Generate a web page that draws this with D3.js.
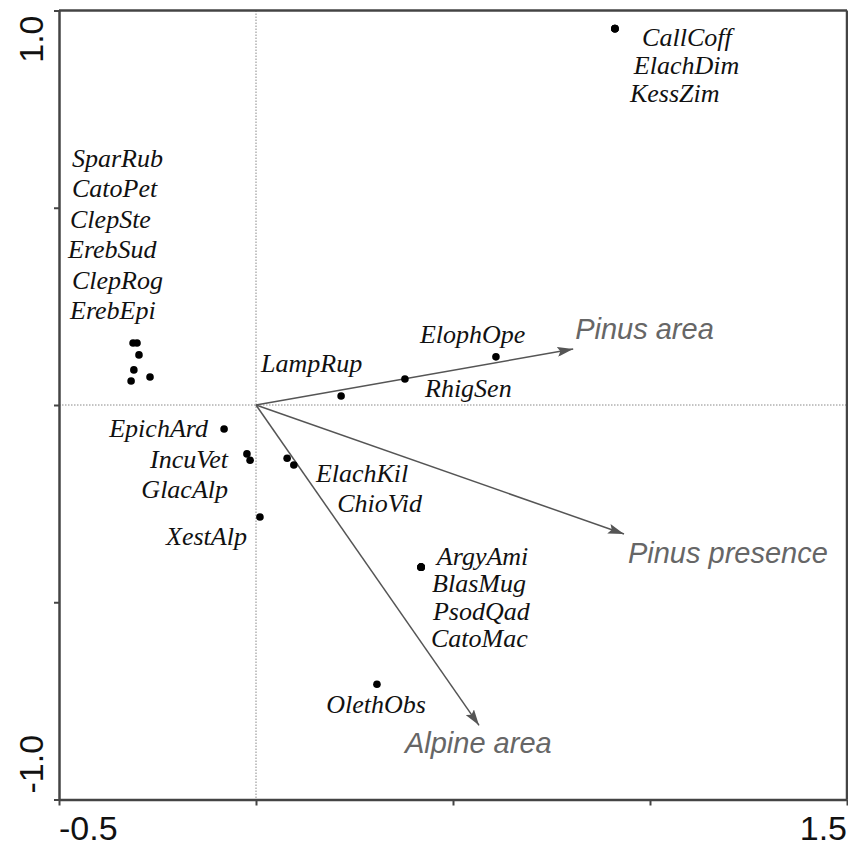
<!DOCTYPE html>
<html>
<head>
<meta charset="utf-8">
<script src="https://cdn.jsdelivr.net/npm/d3@7"></script>
<style>
  body { margin: 0; background: #fff; }
  svg { display: block; }
</style>
</head>
<body>
<script>
// species scores (axis 1, axis 2)
var species = ["CallCoff", "ElachDim", "KessZim",
  "SparRub", "CatoPet", "ClepSte", "ErebSud", "ClepRog", "ErebEpi",
  "EpichArd", "IncuVet", "GlacAlp", "XestAlp",
  "LampRup", "RhigSen", "ElophOpe", "ElachKil", "ChioVid",
  "ArgyAmi", "BlasMug", "PsodQad", "CatoMac", "OlethObs"];
var axis1 = [0.911, 0.911, 0.911,
  -0.312, -0.302, -0.297, -0.310, -0.317, -0.269,
  -0.081, -0.023, -0.015, 0.010,
  0.216, 0.378, 0.609, 0.079, 0.096,
  0.419, 0.419, 0.419, 0.419, 0.307];
var axis2 = [0.954, 0.954, 0.954,
  0.157, 0.157, 0.127, 0.089, 0.061, 0.071,
  -0.061, -0.124, -0.140, -0.284,
  0.023, 0.066, 0.122, -0.135, -0.152,
  -0.411, -0.411, -0.411, -0.411, -0.708];

// environmental vectors
var envNames = ["Pinus area", "Pinus presence", "Alpine area"];
var envX = [0.805, 0.934, 0.566];
var envY = [0.142, -0.327, -0.812];

// axis ticks
var xTicks = [-0.5, 0, 0.5, 1.0, 1.5];
var yTicks = [-1.0, -0.5, 0, 0.5, 1.0];
var xTickLabels = ["-0.5", "1.5"];
var yTickLabels = ["-1.0", "1.0"];

// label placement (data units, text anchor)
var labelLayout = {
  CallCoff: [0.980, 0.911, "start"], ElachDim: [0.959, 0.840, "start"], KessZim: [0.949, 0.769, "start"],
  SparRub: [-0.467, 0.603, "start"], CatoPet: [-0.467, 0.527, "start"], ClepSte: [-0.472, 0.449, "start"],
  ErebSud: [-0.477, 0.373, "start"], ClepRog: [-0.467, 0.294, "start"], ErebEpi: [-0.472, 0.218, "start"],
  EpichArd: [-0.122, -0.081, "end"], IncuVet: [-0.071, -0.160, "end"], GlacAlp: [-0.071, -0.236, "end"],
  XestAlp: [-0.023, -0.355, "end"],
  LampRup: [0.013, 0.084, "start"], ElophOpe: [0.416, 0.157, "start"], RhigSen: [0.429, 0.020, "start"],
  ElachKil: [0.152, -0.195, "start"], ChioVid: [0.206, -0.272, "start"],
  ArgyAmi: [0.459, -0.406, "start"], BlasMug: [0.447, -0.474, "start"], PsodQad: [0.449, -0.545, "start"],
  CatoMac: [0.444, -0.613, "start"], OlethObs: [0.178, -0.781, "start"]
};
var envLabelLayout = [[0.810, 0.168], [0.944, -0.401], [0.378, -0.882]];

var svgWidth = 848;
var svgHeight = 846;

var svg = d3.select("body").append("svg")
  .attr("width", svgWidth)
  .attr("height", svgHeight);

var x = d3.scaleLinear().domain([-0.5, 1.5]).range([59, 847]);
var y = d3.scaleLinear().domain([-1, 1]).range([799.5, 10.5]);

var frameColor = "#444";

// zero lines
svg.append("line")
  .attr("x1", x(0)).attr("x2", x(0)).attr("y1", y(1)).attr("y2", y(-1))
  .attr("stroke", "#888").attr("stroke-width", 1).attr("stroke-dasharray", "1.5,1.5");
svg.append("line")
  .attr("x1", x(-0.5)).attr("x2", x(1.5)).attr("y1", y(0)).attr("y2", y(0))
  .attr("stroke", "#888").attr("stroke-width", 1).attr("stroke-dasharray", "1.5,1.5");

// axes (ticks only)
var bottomAxis = d3.axisBottom(x).tickValues(xTicks).tickFormat("").tickSizeInner(6).tickSizeOuter(0);
var leftAxis = d3.axisLeft(y).tickValues(yTicks).tickFormat("").tickSizeInner(5).tickSizeOuter(0);

var gx = svg.append("g")
  .attr("transform", "translate(0," + y(-1) + ")")
  .call(bottomAxis);
var gy = svg.append("g")
  .attr("transform", "translate(" + x(-0.5) + ",0)")
  .call(leftAxis);
[gx, gy].forEach(function(g) {
  g.select(".domain").attr("stroke", frameColor).attr("stroke-width", 2.5);
  g.selectAll(".tick line").attr("stroke", frameColor).attr("stroke-width", 2);
});

// top and right frame
svg.append("line")
  .attr("x1", x(-0.5)).attr("x2", x(1.5)).attr("y1", y(1)).attr("y2", y(1))
  .attr("stroke", frameColor).attr("stroke-width", 2.5);
svg.append("line")
  .attr("x1", x(1.5)).attr("x2", x(1.5)).attr("y1", y(1)).attr("y2", y(-1))
  .attr("stroke", frameColor).attr("stroke-width", 2.5);

// tick labels
var tickFont = "'Liberation Sans', Arial, sans-serif";
xTickLabels.forEach(function(v, i) {
  svg.append("text")
    .attr("x", x(+v))
    .attr("y", 840)
    .attr("text-anchor", i === 0 ? "start" : "end")
    .style("font-family", tickFont)
    .style("font-size", "34px")
    .style("fill", "#111")
    .text(v);
});
yTickLabels.forEach(function(v, i) {
  var py = i === 0 ? y(+v) - 6 : y(+v) + 5;
  svg.append("text")
    .attr("transform", "translate(43," + py + ") rotate(-90)")
    .attr("text-anchor", i === 0 ? "start" : "end")
    .style("font-family", tickFont)
    .style("font-size", "34px")
    .style("fill", "#111")
    .text(v);
});

// arrow marker
svg.append("defs").append("marker")
  .attr("id", "arrow")
  .attr("markerUnits", "userSpaceOnUse")
  .attr("viewBox", "0 0 16 10")
  .attr("refX", 16).attr("refY", 5)
  .attr("markerWidth", 16).attr("markerHeight", 10)
  .attr("orient", "auto")
  .append("path")
    .attr("d", "M0,0 L16,5 L0,10 L3,5 Z")
    .attr("fill", "#555");

envNames.forEach(function(name, i) {
  svg.append("line")
    .attr("x1", x(0)).attr("y1", y(0))
    .attr("x2", x(envX[i])).attr("y2", y(envY[i]))
    .attr("stroke", "#555")
    .attr("stroke-width", 1.5)
    .attr("marker-end", "url(#arrow)");
  svg.append("text")
    .attr("x", x(envLabelLayout[i][0]))
    .attr("y", y(envLabelLayout[i][1]))
    .style("font-family", tickFont)
    .style("font-style", "italic")
    .style("font-size", "29px")
    .style("fill", "#666")
    .text(name);
});

// species points
species.forEach(function(name, i) {
  svg.append("circle")
    .attr("cx", x(axis1[i]))
    .attr("cy", y(axis2[i]))
    .attr("r", 3.8)
    .attr("fill", "#000");
});

// species labels
species.forEach(function(name) {
  var p = labelLayout[name];
  svg.append("text")
    .attr("x", x(p[0]))
    .attr("y", y(p[1]))
    .attr("text-anchor", p[2])
    .style("font-family", "'Liberation Serif', 'Times New Roman', serif")
    .style("font-style", "italic")
    .style("font-size", "26px")
    .style("fill", "#111")
    .text(name);
});
</script>
</body>
</html>
